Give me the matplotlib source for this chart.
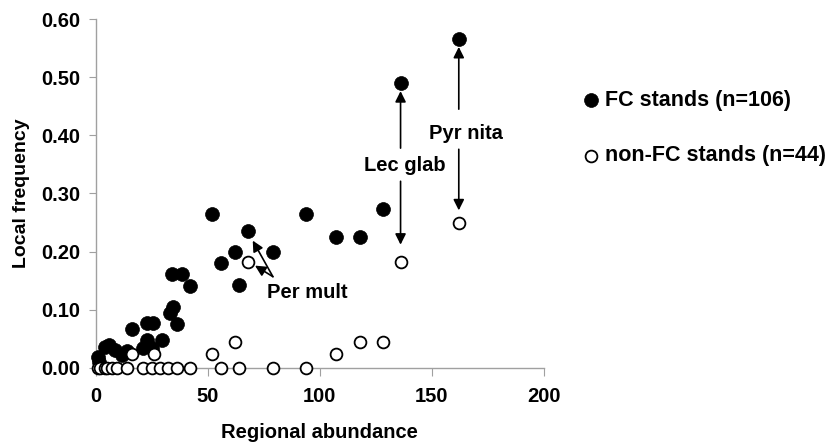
import matplotlib
matplotlib.use("Agg")
from matplotlib import pyplot as plt

plt.rcParams['font.family'] = ['Liberation Sans', 'DejaVu Sans']
plt.rcParams['font.weight'] = 'bold'

# FC stands (filled markers)
fc_x = [1, 1.5, 4, 6, 8.5, 11.5, 14, 16, 21, 23, 23, 25.5, 25, 29.5, 33, 34.5,
        34, 36, 38.5, 42, 52, 56, 62, 64, 68, 79, 94, 107, 118, 128, 136, 162]
fc_y = [0.019, 0.01, 0.036, 0.04, 0.031, 0.022, 0.03, 0.067, 0.034, 0.048, 0.078,
        0.078, 0.034, 0.048, 0.095, 0.105, 0.162, 0.076, 0.162, 0.141, 0.264,
        0.18, 0.199, 0.142, 0.236, 0.2, 0.264, 0.226, 0.226, 0.273, 0.49, 0.565]

# non-FC stands (open markers)
nfc_x = [1, 2, 4, 5, 7, 9.5, 14, 16, 21, 25, 26, 28.5, 32, 36, 42, 52, 56,
         62, 64, 68, 79, 94, 107, 118, 128, 136, 162]
nfc_y = [0, 0, 0, 0, 0, 0, 0, 0.024, 0, 0, 0.024, 0, 0, 0, 0, 0.024, 0,
         0.045, 0, 0.183, 0, 0, 0.024, 0.045, 0.045, 0.183, 0.25]

x_ticks = [0, 50, 100, 150, 200]
y_ticks = [0.0, 0.1, 0.2, 0.3, 0.4, 0.5, 0.6]

fig = plt.figure(figsize=(8.31, 4.44), dpi=100)
ax = fig.add_axes([0.1155, 0.1712, 0.539, 0.786])

ax.scatter(fc_x, fc_y, s=100, c='black', edgecolors='black', linewidths=0.5,
           label='FC stands (n=106)', zorder=3, clip_on=False)
ax.scatter(nfc_x, nfc_y, s=72, c='white', edgecolors='black', linewidths=1.3,
           label='non-FC stands (n=44)', zorder=4, clip_on=False)

arrow = dict(arrowstyle='-|>', color='black', lw=1.2, mutation_scale=16,
             shrinkA=0, shrinkB=0)

# Lec glab
ax.annotate('', xy=(136, 0.476), xytext=(136, 0.378), arrowprops=arrow)
ax.annotate('', xy=(136, 0.212), xytext=(136, 0.321), arrowprops=arrow)
ax.text(138, 0.348, 'Lec glab', fontsize=14.5, fontweight='bold',
        ha='center', va='center')

# Pyr nita
ax.annotate('', xy=(162, 0.552), xytext=(162, 0.445), arrowprops=arrow)
ax.annotate('', xy=(162, 0.271), xytext=(162, 0.376), arrowprops=arrow)
ax.text(165, 0.403, 'Pyr nita', fontsize=14.5, fontweight='bold',
        ha='center', va='center')

# Per mult
ax.annotate('', xy=(70, 0.219), xytext=(79, 0.157), arrowprops=arrow)
ax.annotate('', xy=(71, 0.176), xytext=(79, 0.157), arrowprops=arrow)
ax.text(94.5, 0.129, 'Per mult', fontsize=14.5, fontweight='bold',
        ha='center', va='center')

ax.set_xlim(0, 200)
ax.set_ylim(0, 0.6)
ax.set_xticks(x_ticks)
ax.set_yticks(y_ticks)
ax.set_xticklabels([str(t) for t in x_ticks])
ax.set_yticklabels(['%.2f' % t for t in y_ticks])

for side in ['top', 'right']:
    ax.spines[side].set_visible(False)
for side in ['left', 'bottom']:
    ax.spines[side].set_color('#a0a0a0')
    ax.spines[side].set_linewidth(1.0)

ax.tick_params(axis='both', colors='#a0a0a0', labelcolor='black',
               labelsize=14.5, direction='out')
ax.tick_params(axis='y', length=5, pad=6)
ax.tick_params(axis='x', length=6, pad=8)
for lbl in ax.get_xticklabels() + ax.get_yticklabels():
    lbl.set_fontweight('bold')

ax.set_xlabel('Regional abundance', fontsize=14.5, fontweight='bold', labelpad=12)
ax.set_ylabel('Local frequency', fontsize=14, fontweight='bold', labelpad=8)

ax.legend(loc='center left', bbox_to_anchor=(1.0915, 0.687), frameon=False,
          fontsize=15.5, handlelength=0.6, handletextpad=0.35, labelspacing=1.6,
          borderpad=0, borderaxespad=0, scatterpoints=1)

fig.savefig('out.png', dpi=100)
